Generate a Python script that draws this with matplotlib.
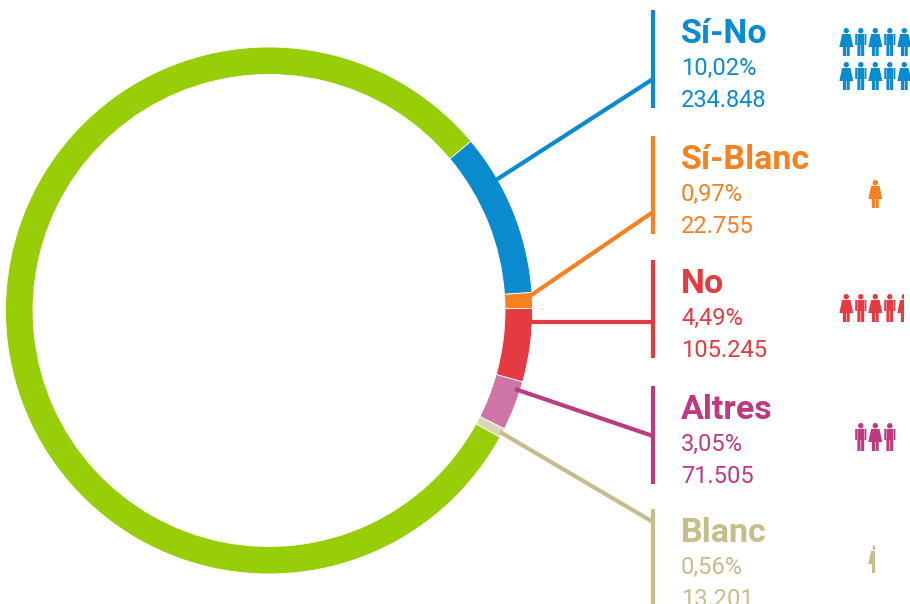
import matplotlib
matplotlib.use('Agg')
import matplotlib.pyplot as plt
from matplotlib.patches import Circle, Polygon, Rectangle

names = ['Sí-No', 'Sí-Blanc', 'No', 'Altres', 'Blanc']
pct_labels = ['10,02%', '0,97%', '4,49%', '3,05%', '0,56%']
vote_labels = ['234.848', '22.755', '105.245', '71.505', '13.201']
shares = [10.02, 0.97, 4.49, 3.05, 0.56, 80.91]
people = [10, 1, 4.5, 3, 0.5]

ring_colors = ['#0a8bd0', '#f68121', '#e43a42', '#cf74a6', '#d9d6b9', '#97ce08']
text_colors = ['#0a8bd0', '#f68121', '#e43a42', '#bd3a80', '#c4bd8c']

# pixel layout of the right hand column
bar_tops = [10, 136, 260, 386, 509]
leader_starts = [(496, 180), (530, 296), (531, 322), (515, 389), (500, 432)]
leader_ends = [79, 212, 322, 436, 522]
icon_tops = [[28, 62], [180], [294], [423], [545]]
icon_starts = [0, 0, 0, 1, 0]

fig = plt.figure(figsize=(9.1, 6.04), dpi=100)
ax = fig.add_axes([0, 0, 1, 1])

ax.pie(shares, colors=ring_colors, center=(269, 310.5), radius=263.5, startangle=-40,
       counterclock=True, wedgeprops=dict(width=27.5, edgecolor='white', linewidth=0.6))
ax.set_xlim(0, 910)
ax.set_ylim(604, 0)
ax.set_aspect('equal')
ax.axis('off')


def person(x, top, color, woman, clip_x=None):
    # one pictogram 14px wide, 28px tall
    parts = [Circle((x, top + 2.7), 2.7)]
    if woman:
        parts.append(Polygon([(x - 4.2, top + 6), (x + 4.2, top + 6), (x + 7, top + 19),
                              (x - 7, top + 19)]))
        parts.append(Rectangle((x - 3.4, top + 18), 3.1, 10))
        parts.append(Rectangle((x + 0.3, top + 18), 3.1, 10))
    else:
        parts.append(Rectangle((x - 3.4, top + 6), 6.8, 11))
        parts.append(Rectangle((x - 5.6, top + 6), 1.8, 11))
        parts.append(Rectangle((x + 3.8, top + 6), 1.8, 11))
        parts.append(Rectangle((x - 3.4, top + 16), 3.1, 12))
        parts.append(Rectangle((x + 0.3, top + 16), 3.1, 12))
    for p in parts:
        p.set_facecolor(color)
        p.set_edgecolor('none')
        p.set_snap(False)
        ax.add_patch(p)
        if clip_x is not None:
            p.set_clip_path(Rectangle((0, 0), clip_x, 604, transform=ax.transData))


pitch = 14.5
for i, name in enumerate(names):
    c = text_colors[i]
    top = bar_tops[i]
    ax.plot([653, 653], [top, top + 98], color=c, lw=3, solid_capstyle='butt')
    ax.plot([leader_starts[i][0], 653], [leader_starts[i][1], leader_ends[i]], color=c, lw=3,
            solid_capstyle='butt')
    ax.text(681, top + 33, name, color=c, fontsize=24.5, fontweight='bold', family='Roboto',
            va='baseline', ha='left')
    ax.text(681, top + 65, pct_labels[i], color=c, fontsize=17, family='Roboto',
            va='baseline', ha='left')
    ax.text(681, top + 97, vote_labels[i], color=c, fontsize=17, family='Roboto',
            va='baseline', ha='left')

    # one person per percentage point, the last one cut when it is a part
    left = people[i]
    n_rows = len(icon_tops[i])
    per_row = int(round(people[i] / n_rows + 0.49))
    start_x = 875.3 - pitch * (2 if per_row > 3 else (per_row - 1) / 2)
    for top_y in icon_tops[i]:
        for k in range(per_row):
            x = start_x + k * pitch
            frac = min(left, 1)
            clip = x if frac < 1 else None
            person(x, top_y, c, (k + icon_starts[i]) % 2 == 0, clip)
            left -= frac

fig.savefig('out.png', dpi=100)
